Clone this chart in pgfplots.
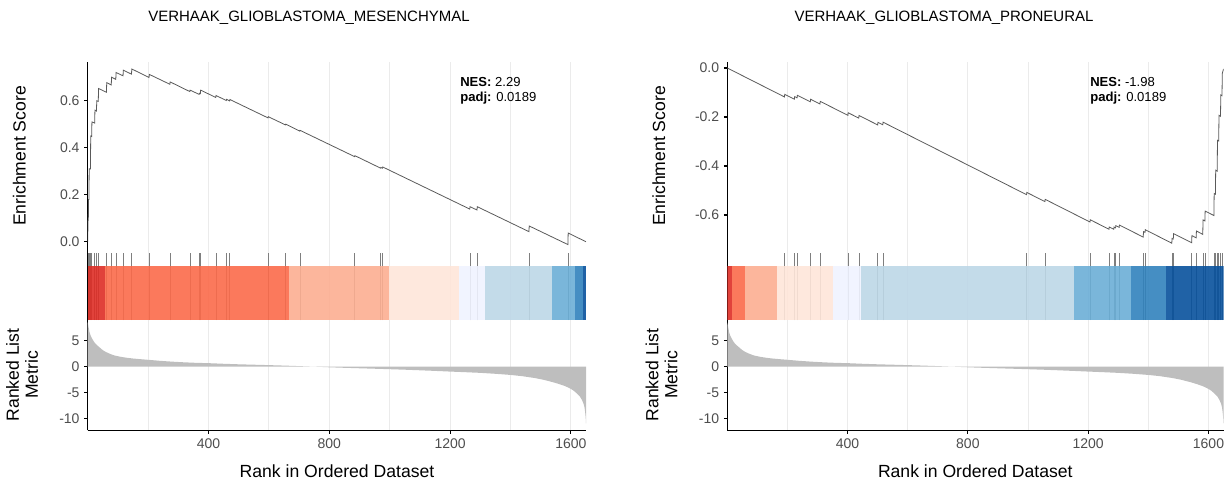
\documentclass[border=0pt]{standalone}
\usepackage{pgfplots}
\pgfplotsset{compat=1.18}
\usepackage{fontspec}
\setmainfont{Liberation Sans}
\definecolor{gridc}{HTML}{EBEBEB}
\definecolor{tickc}{HTML}{4D4D4D}
\definecolor{esc}{HTML}{5A5A5A}
\definecolor{rugc}{HTML}{7F7F7F}
\definecolor{metc}{HTML}{BEBEBE}
\definecolor{Rfour}{HTML}{DE2D26}
\definecolor{Rthree}{HTML}{FB6A4A}
\definecolor{Rtwo}{HTML}{FCAE91}
\definecolor{Rone}{HTML}{FEE5D9}
\definecolor{Bone}{HTML}{EFF3FF}
\definecolor{Btwo}{HTML}{BDD7E7}
\definecolor{Bthree}{HTML}{6BAED6}
\definecolor{Bfour}{HTML}{3182BD}
\definecolor{Bfive}{HTML}{08519C}
\pgfplotsset{
  gsea/.style={
    scale only axis, xmin=0, xmax=1650,
    axis x line*=bottom, axis y line*=left,
    axis line style={line width=0.8pt, black},
    xtick={400,800,1200,1600}, minor xtick={200,600,1000,1400},
    xmajorgrids, xminorgrids,
    major grid style={gridc, line width=0.75pt},
    minor grid style={gridc, line width=0.75pt},
    tick align=outside, major tick length=2.6pt, minor tick length=0pt,
    tick style={black, line width=0.8pt},
    ticklabel style={font=\fontsize{10.5}{12}\selectfont, text=tickc},
    /pgf/number format/assume math mode=true,
    /pgf/number format/set thousands separator={},
  },
  nox/.style={x axis line style={draw=none}, xticklabels={}, xtick style={draw=none}},
  esline/.style={esc, line width=0.6pt, mark=none},
  rug/.style={ycomb, rugc, line width=0.75pt, mark=none},
  seg/.style={draw=none, fill opacity=0.9, mark=none},
}
\pgfplotstableread{
r m
0 8.6
1 8.3
3 7.6
6 6.7
10 6.0
15 5.4
20 4.9
25 4.5
32 4.1
40 3.7
50 3.2
60 2.85
75 2.45
90 2.15
110 1.9
130 1.72
150 1.58
175 1.45
200 1.33
240 1.13
280 0.97
320 0.84
360 0.74
400 0.68
450 0.56
500 0.46
550 0.38
600 0.30
650 0.21
700 0.11
740 0.02
760 -0.02
800 -0.12
850 -0.22
900 -0.31
950 -0.40
1000 -0.49
1050 -0.59
1100 -0.70
1150 -0.82
1200 -0.95
1250 -1.07
1300 -1.20
1350 -1.38
1400 -1.60
1440 -1.85
1480 -2.20
1510 -2.55
1540 -3.00
1560 -3.35
1580 -3.75
1595 -4.15
1608 -4.60
1620 -5.20
1630 -5.80
1637 -6.50
1642 -7.20
1645 -7.90
1647 -8.70
1649 -9.90
1650 -11.0
}\metric
\pgfplotstableread{
r es
0 0
1 0.09
2 0.09
3 0.18
4 0.18
5 0.31
9 0.31
10 0.45
13 0.448
14 0.51
23 0.505
24 0.56
29 0.556
30 0.60
35 0.597
36 0.652
62 0.636
63 0.677
78 0.667
79 0.700
93 0.691
94 0.720
117 0.706
118 0.730
145 0.713
146 0.735
203 0.699
204 0.712
272 0.670
273 0.680
338 0.639
339 0.645
369 0.627
370 0.632
373 0.630
374 0.645
424 0.614
425 0.622
459 0.601
460 0.606
470 0.599
471 0.605
597 0.527
598 0.532
655 0.497
656 0.500
702 0.471
703 0.474
884 0.362
885 0.366
970 0.313
971 0.316
976 0.313
977 0.318
1265 0.139
1266 0.149
1289 0.135
1290 0.149
1461 0.043
1462 0.067
1590 -0.012
1591 0.037
1650 0.000
}\esleft
\pgfplotstableread{
r es
0 0
190 -0.118
191 -0.1075
223 -0.1273
224 -0.1168
232 -0.1218
233 -0.1113
276 -0.138
277 -0.1275
308 -0.1467
309 -0.1362
401 -0.1932
402 -0.1827
437 -0.2044
438 -0.1939
500 -0.2323
501 -0.2218
517 -0.2317
518 -0.2212
995 -0.5169
996 -0.5079
1056 -0.5451
1057 -0.5361
1206 -0.6285
1207 -0.6195
1269 -0.6579
1270 -0.6489
1285 -0.6582
1286 -0.6492
1291 -0.6523
1292 -0.6433
1303 -0.6501
1304 -0.6411
1383 -0.690
1384 -0.668
1389 -0.671
1390 -0.660
1478 -0.715
1479 -0.696
1483 -0.698
1484 -0.676
1544 -0.713
1545 -0.684
1559 -0.693
1560 -0.665
1581 -0.679
1582 -0.620
1588 -0.624
1589 -0.584
1618 -0.602
1619 -0.512
1623 -0.515
1624 -0.417
1629 -0.421
1630 -0.295
1634 -0.298
1635 -0.193
1640 -0.197
1641 -0.110
1645 -0.113
1646 -0.022
1650 -0.004
}\esright
\pgfplotstableread{
r h
1 66.7
3 66.7
5 66.7
10 66.7
14 66.7
24 66.7
30 66.7
36 66.7
63 66.7
79 66.7
94 66.7
118 66.7
146 66.7
204 66.7
273 66.7
339 66.7
370 66.7
374 66.7
425 66.7
460 66.7
471 66.7
598 66.7
656 66.7
703 66.7
885 66.7
971 66.7
977 66.7
1266 66.7
1290 66.7
1462 66.7
1591 66.7
}\rugleft
\pgfplotstableread{
r h
191 66.7
224 66.7
233 66.7
277 66.7
309 66.7
402 66.7
438 66.7
501 66.7
518 66.7
996 66.7
1057 66.7
1207 66.7
1270 66.7
1286 66.7
1292 66.7
1304 66.7
1384 66.7
1390 66.7
1479 66.7
1484 66.7
1545 66.7
1560 66.7
1582 66.7
1589 66.7
1619 66.7
1624 66.7
1630 66.7
1635 66.7
1641 66.7
1646 66.7
}\rugright
\begin{document}
\begin{tikzpicture}
% ================= LEFT PANEL =================
\begin{axis}[gsea, nox, at={(65.775pt,-46.275pt)}, anchor=north west,
  width=373.725pt, height=143.475pt, ymin=-0.048, ymax=0.766,
  ytick={0,0.2,0.4,0.6},
  yticklabel style={/pgf/number format/.cd, fixed, fixed zerofill, precision=1}]
\addplot[esline] table[x=r, y=es] {\esleft};
\end{axis}
\begin{axis}[gsea, nox, at={(65.775pt,-189.75pt)}, anchor=north west,
  width=373.725pt, height=50.25pt, ymin=0, ymax=67, ytick=\empty]
\addplot[rug] table[x=r, y=h] {\rugleft};
\addplot[seg, fill=Rfour] coordinates {(0,54.3) (57,54.3)} \closedcycle;
\addplot[seg, fill=Rthree] coordinates {(57,54.3) (667,54.3)} \closedcycle;
\addplot[seg, fill=Rtwo] coordinates {(667,54.3) (998,54.3)} \closedcycle;
\addplot[seg, fill=Rone] coordinates {(998,54.3) (1231,54.3)} \closedcycle;
\addplot[seg, fill=Bone] coordinates {(1231,54.3) (1314,54.3)} \closedcycle;
\addplot[seg, fill=Btwo] coordinates {(1314,54.3) (1538,54.3)} \closedcycle;
\addplot[seg, fill=Bthree] coordinates {(1538,54.3) (1613,54.3)} \closedcycle;
\addplot[seg, fill=Bfour] coordinates {(1613,54.3) (1641,54.3)} \closedcycle;
\addplot[seg, fill=Bfive] coordinates {(1641,54.3) (1650,54.3)} \closedcycle;
\end{axis}
\begin{axis}[gsea, at={(65.775pt,-240pt)}, anchor=north west,
  width=373.725pt, height=82.725pt, ymin=-12.33, ymax=9.04,
  ytick={-10,-5,0,5}]
\addplot[fill=metc, draw=none, mark=none] table[x=r, y=m] {\metric} \closedcycle;
\end{axis}
% ================= RIGHT PANEL =================
\begin{axis}[gsea, nox, at={(545.475pt,-46.275pt)}, anchor=north west,
  width=372.15pt, height=143.475pt, ymin=-0.755, ymax=0.0257,
  ytick={0,-0.2,-0.4,-0.6},
  yticklabel style={/pgf/number format/.cd, fixed, fixed zerofill, precision=1}]
\addplot[esline] table[x=r, y=es] {\esright};
\end{axis}
\begin{axis}[gsea, nox, at={(545.475pt,-189.75pt)}, anchor=north west,
  width=372.15pt, height=50.25pt, ymin=0, ymax=67, ytick=\empty]
\addplot[rug] table[x=r, y=h] {\rugright};
\addplot[seg, fill=Rfour] coordinates {(0,54.3) (15,54.3)} \closedcycle;
\addplot[seg, fill=Rthree] coordinates {(15,54.3) (59,54.3)} \closedcycle;
\addplot[seg, fill=Rtwo] coordinates {(59,54.3) (165,54.3)} \closedcycle;
\addplot[seg, fill=Rone] coordinates {(165,54.3) (350,54.3)} \closedcycle;
\addplot[seg, fill=Bone] coordinates {(350,54.3) (445,54.3)} \closedcycle;
\addplot[seg, fill=Btwo] coordinates {(445,54.3) (1154,54.3)} \closedcycle;
\addplot[seg, fill=Bthree] coordinates {(1154,54.3) (1342,54.3)} \closedcycle;
\addplot[seg, fill=Bfour] coordinates {(1342,54.3) (1459,54.3)} \closedcycle;
\addplot[seg, fill=Bfive] coordinates {(1459,54.3) (1650,54.3)} \closedcycle;
\end{axis}
\begin{axis}[gsea, at={(545.475pt,-240pt)}, anchor=north west,
  width=372.15pt, height=82.725pt, ymin=-12.33, ymax=9.04,
  ytick={-10,-5,0,5}]
\addplot[fill=metc, draw=none, mark=none] table[x=r, y=m] {\metric} \closedcycle;
\end{axis}
% ================= TEXT =================
\node[font=\fontsize{11.25}{13}\selectfont] at (231.75pt,-13.5pt) {VERHAAK\_GLIOBLASTOMA\_MESENCHYMAL};
\node[font=\fontsize{11.25}{13}\selectfont] at (708pt,-13.5pt) {VERHAAK\_GLIOBLASTOMA\_PRONEURAL};
\node[anchor=west, font=\fontsize{9.8}{11}\selectfont, inner sep=0pt] at (345pt,-61.3pt) {\textbf{NES:} 2.29};
\node[anchor=west, font=\fontsize{9.8}{11}\selectfont, inner sep=0pt] at (345pt,-73.3pt) {\textbf{padj:} 0.0189};
\node[anchor=west, font=\fontsize{9.8}{11}\selectfont, inner sep=0pt] at (817.5pt,-61.3pt) {\textbf{NES:} -1.98};
\node[anchor=west, font=\fontsize{9.8}{11}\selectfont, inner sep=0pt] at (817.5pt,-73.3pt) {\textbf{padj:} 0.0189};
\node[rotate=90, font=\fontsize{13.2}{15}\selectfont] at (14.5pt,-117pt) {Enrichment Score};
\node[rotate=90, font=\fontsize{13.2}{15}\selectfont] at (494.2pt,-117pt) {Enrichment Score};
\node[rotate=90, align=center, font=\fontsize{13.2}{14.25}\selectfont] at (16.5pt,-281.25pt) {Ranked List\\Metric};
\node[rotate=90, align=center, font=\fontsize{13.2}{14.25}\selectfont] at (496.2pt,-281.25pt) {Ranked List\\Metric};
\node[font=\fontsize{13.2}{15}\selectfont] at (252.75pt,-353.25pt) {Rank in Ordered Dataset};
\node[font=\fontsize{13.2}{15}\selectfont] at (731.5pt,-353.25pt) {Rank in Ordered Dataset};
\pgfresetboundingbox
\path[use as bounding box] (0pt,0pt) rectangle (918.75pt,-362.25pt);
\end{tikzpicture}
\end{document}
